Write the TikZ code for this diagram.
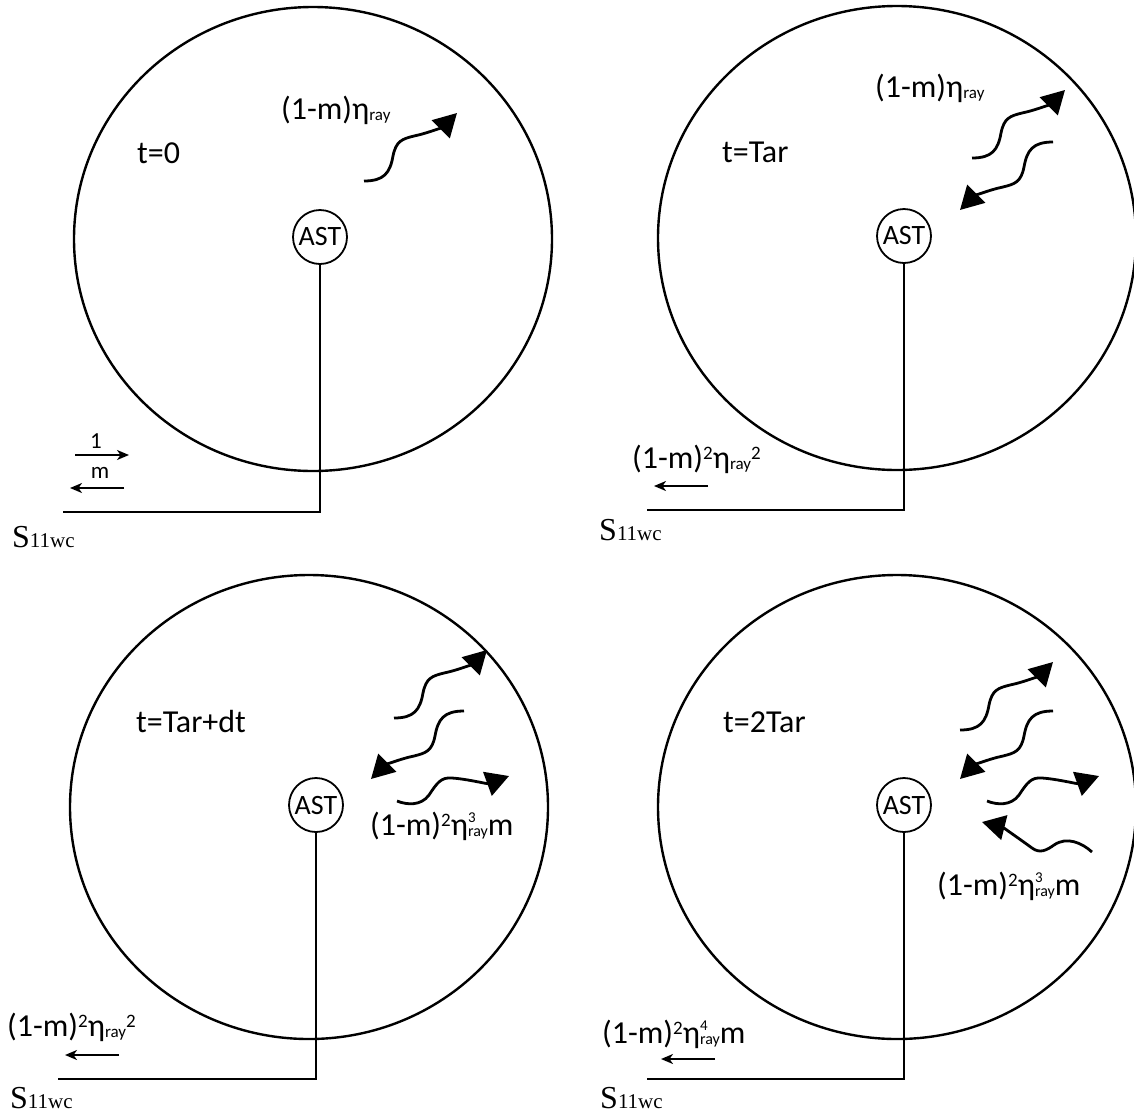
\documentclass[tikz,border=0pt]{standalone}
\usepackage{fontspec}
\setmainfont{Carlito}
\newfontfamily\serifface{Liberation Serif}
\usetikzlibrary{arrows.meta}
\newcommand{\raysub}{\raisebox{-1.5pt}{\fontsize{17}{17}\selectfont ray}}
\newcommand{\sqr}{\raisebox{9pt}{\fontsize{19}{19}\selectfont 2}}
\newcommand{\etapow}[1]{η\rlap{\raisebox{12.5pt}{\fontsize{15}{15}\selectfont #1}}\raisebox{-1.5pt}{\fontsize{16}{16}\selectfont ray}}
\newcommand{\sport}{{\serifface\fontsize{32}{32}\selectfont S\fontsize{21}{21}\selectfont 11wc}}
\tikzset{
  ring/.style={line width=2.4pt},
  wire/.style={line width=2.8pt},
  astnode/.style={circle,draw,line width=1.8pt,minimum size=54pt,inner sep=0pt,font=\fontsize{28}{28}\selectfont},
  wave/.style={line width=2.8pt,-{Triangle[length=23pt,width=25pt]}},
  thinarrow/.style={line width=1.8pt,-{Stealth[length=12pt,width=10pt,inset=3.5pt]}},
  lbl/.style={inner sep=0pt,anchor=base west,font=\fontsize{32}{34}\selectfont},
  small/.style={inner sep=0pt,font=\fontsize{23}{23}\selectfont},
  port/.style={inner sep=0pt,anchor=base west},
}
\begin{document}
\begin{tikzpicture}[x=1pt,y=-1pt]
\useasboundingbox (0,0) rectangle (1134,1117);

% ---------- panel 1 (top left) ----------
\draw[ring] (313,239) ellipse [x radius=239pt, y radius=232pt];
\node[astnode] (ast1) at (320,237) {AST};
\coordinate (c1) at (320,512);
\coordinate (e1) at (63,512);
\draw[wire] (ast1) -- (c1) -- (e1);
\node[port] (s1) at (12,547) {\sport};
\node[lbl] (t1) at (137,163) {t=0};
\node[lbl] (l1) at (281,119) {(1-m)η\raysub};
\draw[wave, shift={(364,181)}] (0,0) .. controls (20,0) and (26,-8) .. (29,-25) .. controls (32,-40) and (38,-42) .. (50,-45) .. controls (65,-48) and (80,-55) .. (93,-68);
\coordinate (a1s) at (75,455);
\coordinate (a1e) at (129,455);
\draw[thinarrow] (a1s) -- (a1e);
\coordinate (b1s) at (124,488);
\coordinate (b1e) at (70,488);
\draw[thinarrow] (b1s) -- (b1e);
\node[small] (one) at (96,441) {1};
\node[small] (em) at (100,473) {m};

% ---------- panel 2 (top right) ----------
\draw[ring] (897,238) ellipse [x radius=239pt, y radius=232pt];
\node[astnode] (ast2) at (904,236) {AST};
\coordinate (c2) at (904,510);
\coordinate (e2) at (647,510);
\draw[wire] (ast2) -- (c2) -- (e2);
\node[port] (s2) at (599,540) {\sport};
\node[lbl] (t2) at (722,162) {t=Tar};
\node[lbl] (l2) at (875,97) {(1-m)η\raysub};
\draw[wave, shift={(972,158)}] (0,0) .. controls (20,0) and (26,-8) .. (29,-25) .. controls (32,-40) and (38,-42) .. (50,-45) .. controls (65,-48) and (80,-55) .. (93,-68);
\draw[wave, shift={(1053,142)}] (0,0) .. controls (-20,0) and (-26,8) .. (-29,25) .. controls (-32,40) and (-38,42) .. (-50,45) .. controls (-65,48) and (-80,55) .. (-93,68);
\node[lbl] (r2) at (632,468) {(1-m)\sqr η\raysub\sqr};
\coordinate (a2s) at (708,486);
\coordinate (a2e) at (654,486);
\draw[thinarrow] (a2s) -- (a2e);

% ---------- panel 3 (bottom left) ----------
\draw[ring] (309,807) ellipse [x radius=239pt, y radius=232pt];
\node[astnode] (ast3) at (316,805) {AST};
\coordinate (c3) at (316,1079);
\coordinate (e3) at (58,1079);
\draw[wire] (ast3) -- (c3) -- (e3);
\node[port] (s3) at (10,1108) {\sport};
\node[lbl] (t3) at (136,732) {t=Tar+dt};
\draw[wave, shift={(394,718)}] (0,0) .. controls (20,0) and (26,-8) .. (29,-25) .. controls (32,-40) and (38,-42) .. (50,-45) .. controls (65,-48) and (80,-55) .. (93,-68);
\draw[wave, shift={(464,711)}] (0,0) .. controls (-20,0) and (-26,8) .. (-29,25) .. controls (-32,40) and (-38,42) .. (-50,45) .. controls (-65,48) and (-80,55) .. (-93,68);
\draw[wave, shift={(397,801)}] (0,0) .. controls (10,4) and (24,5) .. (32,-6) .. controls (40,-18) and (44,-24) .. (55,-23) .. controls (70,-22) and (90,-17) .. (112,-25);
\node[lbl] (m3) at (370,835) {(1-m)\sqr\etapow{3}m};
\node[lbl] (r3) at (7,1036) {(1-m)\sqr η\raysub\sqr};
\coordinate (a3s) at (119,1055);
\coordinate (a3e) at (65,1055);
\draw[thinarrow] (a3s) -- (a3e);

% ---------- panel 4 (bottom right) ----------
\draw[ring] (897,807) ellipse [x radius=239pt, y radius=232pt];
\node[astnode] (ast4) at (904,805) {AST};
\coordinate (c4) at (904,1079);
\coordinate (e4) at (647,1079);
\draw[wire] (ast4) -- (c4) -- (e4);
\node[port] (s4) at (600,1108) {\sport};
\node[lbl] (t4) at (723,732) {t=2Tar};
\draw[wave, shift={(960,730)}] (0,0) .. controls (20,0) and (26,-8) .. (29,-25) .. controls (32,-40) and (38,-42) .. (50,-45) .. controls (65,-48) and (80,-55) .. (93,-68);
\draw[wave, shift={(1053,711)}] (0,0) .. controls (-20,0) and (-26,8) .. (-29,25) .. controls (-32,40) and (-38,42) .. (-50,45) .. controls (-65,48) and (-80,55) .. (-93,68);
\draw[wave, shift={(987,801)}] (0,0) .. controls (10,4) and (24,5) .. (32,-6) .. controls (40,-18) and (44,-24) .. (55,-23) .. controls (70,-22) and (90,-17) .. (112,-25);
\draw[wave, shift={(1092,852)}] (0,0) .. controls (-10,-9) and (-25,-16) .. (-38,-7) .. controls (-45,-2) and (-52,2) .. (-60,-4) .. controls (-75,-15) and (-90,-25) .. (-110,-30);
\node[lbl] (m4) at (937,895) {(1-m)\sqr\etapow{3}m};
\node[lbl] (r4) at (602,1043) {(1-m)\sqr\etapow{4}m};
\coordinate (a4s) at (715,1059);
\coordinate (a4e) at (661,1059);
\draw[thinarrow] (a4s) -- (a4e);
\end{tikzpicture}
\end{document}
